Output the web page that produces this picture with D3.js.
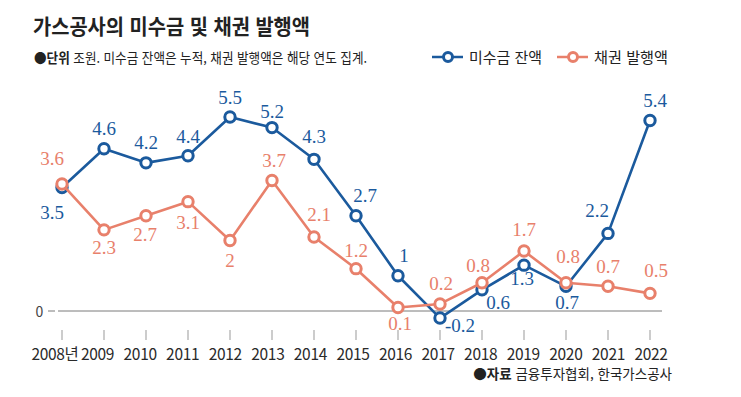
<!DOCTYPE html>
<html lang="ko">
<head>
  <meta charset="UTF-8">
  <title>가스공사의 미수금 및 채권 발행액</title>
  <style>
    body {
      margin: 0;
      background: #fff;
      overflow: hidden;
    }
    svg text {
      font-family: "Noto Sans CJK KR", "Noto Sans", sans-serif;
    }
    .val {
      font-family: "Liberation Serif", "DejaVu Serif", serif !important;
      font-size: 19px;
      text-anchor: middle;
    }
  </style>
  <script src="https://d3js.org/d3.v7.min.js"></script>
</head>
<body>
  <svg width="741" height="397"></svg>
  <script>
    // data (조원)
    const years = ["2008", "2009", "2010", "2011", "2012", "2013", "2014", "2015",
      "2016", "2017", "2018", "2019", "2020", "2021", "2022"];
    const yearLabels = ["2008년", "2009", "2010", "2011", "2012", "2013", "2014", "2015",
      "2016", "2017", "2018", "2019", "2020", "2021", "2022"];
    const receivables = [3.5, 4.6, 4.2, 4.4, 5.5, 5.2, 4.3, 2.7, 1, -0.2, 0.6, 1.3, 0.7, 2.2, 5.4];
    const bonds = [3.6, 2.3, 2.7, 3.1, 2, 3.7, 2.1, 1.2, 0.1, 0.2, 0.8, 1.7, 0.8, 0.7, 0.5];

    // label offsets [dx, dy] from each point
    const receivablesLabelPos = [[-10, 31], [0, -14], [0, -14], [0, -13], [0, -13], [0, -10], [0, -16],
      [9, -14], [6, -14], [20, 14], [16, 19], [-2, 20], [1, 23], [-11, -16], [5, -14]];
    const bondsLabelPos = [[-10, -19], [0, 24], [-1, 25], [0, 27], [0, 27], [2, -13], [5, -16],
      [0, -12], [2, 23], [1, -14], [-4, -11], [0, -15], [2, -20], [0, -13], [6, -16]];

    const blue = "#1b5a9d";
    const orange = "#e8806b";

    const svg = d3.select("svg");

    const x = d3.scalePoint().domain(years).range([62, 650]);
    const xLabel = d3.scalePoint().domain(years).range([55, 651]);
    const y = d3.scaleLinear().domain([0, 5.5]).range([311, 117]);

    // title + notes
    svg.append("text")
      .attr("x", 33).attr("y", 34)
      .attr("font-size", 21).attr("font-weight", 700).attr("fill", "#222")
      .attr("textLength", 277).attr("lengthAdjust", "spacingAndGlyphs")
      .text("가스공사의 미수금 및 채권 발행액");

    const sub = svg.append("text")
      .attr("x", 34).attr("y", 63)
      .attr("font-size", 13.5).attr("fill", "#222")
      .attr("textLength", 333).attr("lengthAdjust", "spacingAndGlyphs");
    sub.append("tspan").attr("font-weight", 700).text("●단위");
    sub.append("tspan").text(" 조원. 미수금 잔액은 누적, 채권 발행액은 해당 연도 집계.");

    const src = svg.append("text")
      .attr("x", 672).attr("y", 379)
      .attr("text-anchor", "end")
      .attr("font-size", 13.5).attr("fill", "#222");
    src.append("tspan").attr("font-weight", 700).text("●자료");
    src.append("tspan").text(" 금융투자협회, 한국가스공사");

    // legend
    const legend = [
      { name: "미수금 잔액", color: blue, x: 432, w: 73 },
      { name: "채권 발행액", color: orange, x: 557, w: 74 }
    ];
    const lg = svg.append("g").selectAll("g").data(legend).join("g")
      .attr("transform", d => `translate(${d.x},57)`);
    lg.append("line").attr("x1", 0).attr("x2", 31)
      .attr("stroke", d => d.color).attr("stroke-width", 2.5);
    lg.append("circle").attr("cx", 16).attr("r", 4.5)
      .attr("fill", "#fff").attr("stroke", d => d.color).attr("stroke-width", 3);
    lg.append("text").attr("x", 37).attr("y", 6)
      .attr("font-size", 15).attr("fill", "#222")
      .attr("textLength", d => d.w).attr("lengthAdjust", "spacingAndGlyphs")
      .text(d => d.name);

    // zero line + y label
    svg.append("line")
      .attr("x1", 58).attr("x2", 662).attr("y1", y(0)).attr("y2", y(0))
      .attr("stroke", "#7a7a7a").attr("stroke-width", 1);
    svg.append("line")
      .attr("x1", 48).attr("x2", 55).attr("y1", y(0)).attr("y2", y(0))
      .attr("stroke", "#7a7a7a").attr("stroke-width", 1);
    svg.append("text")
      .attr("x", 39.5).attr("y", y(0) + 5.5)
      .attr("text-anchor", "middle").attr("font-size", 14).attr("fill", "#444")
      .text("0");

    // x axis ticks and labels
    svg.append("g").selectAll("line").data(years).join("line")
      .attr("x1", d => x(d)).attr("x2", d => x(d))
      .attr("y1", 330).attr("y2", 340)
      .attr("stroke", "#999").attr("stroke-width", 1);
    svg.append("g").selectAll("text").data(years).join("text")
      .attr("x", d => xLabel(d)).attr("y", 360)
      .attr("text-anchor", "middle").attr("font-size", 15.5).attr("fill", "#2a2a2a")
      .attr("letter-spacing", -0.3)
      .text((d, i) => yearLabels[i]);

    const line = d3.line()
      .x((d, i) => x(years[i]))
      .y(d => y(d));

    function drawSeries(values, pos, color) {
      const g = svg.append("g");
      g.append("path")
        .attr("d", line(values))
        .attr("fill", "none").attr("stroke", color)
        .attr("stroke-width", 2.6).attr("stroke-linejoin", "round");
      g.selectAll("circle").data(values).join("circle")
        .attr("cx", (d, i) => x(years[i])).attr("cy", d => y(d))
        .attr("r", 5.2)
        .attr("fill", "#fff").attr("stroke", color).attr("stroke-width", 3);
      return g;
    }

    function drawLabels(values, pos, color) {
      svg.append("g").selectAll("text").data(values).join("text")
        .attr("class", "val")
        .attr("x", (d, i) => x(years[i]) + pos[i][0])
        .attr("y", (d, i) => y(d) + pos[i][1])
        .attr("fill", color)
        .text(d => d);
    }

    drawSeries(receivables, receivablesLabelPos, blue);
    drawSeries(bonds, bondsLabelPos, orange);
    drawLabels(receivables, receivablesLabelPos, blue);
    drawLabels(bonds, bondsLabelPos, orange);
  </script>
</body>
</html>
